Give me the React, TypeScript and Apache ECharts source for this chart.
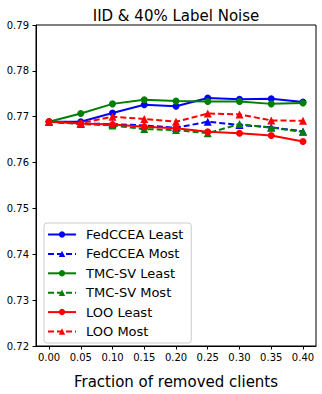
import React, { useEffect, useRef } from "react";
import * as echarts from "echarts";

const fractions = [0, 0.05, 0.1, 0.15, 0.2, 0.25, 0.3, 0.35, 0.4];
const fedLeast = [0.7689, 0.7689, 0.7708, 0.7726, 0.7723, 0.7741, 0.7738, 0.7739, 0.7732];
const fedMost = [0.7689, 0.7685, 0.7684, 0.7681, 0.7676, 0.7689, 0.7682, 0.7677, 0.7668];
const tmcLeast = [0.7689, 0.7707, 0.7728, 0.7737, 0.7734, 0.7733, 0.7733, 0.7728, 0.773];
const tmcMost = [0.7689, 0.7684, 0.7681, 0.7673, 0.7671, 0.7664, 0.7684, 0.7676, 0.7667];
const looLeast = [0.7689, 0.7685, 0.7683, 0.7678, 0.7675, 0.7667, 0.7664, 0.7659, 0.7646];
const looMost = [0.7689, 0.7686, 0.77, 0.7695, 0.7689, 0.7707, 0.7705, 0.7692, 0.7691];
const xTicks = [0, 0.05, 0.1, 0.15, 0.2, 0.25, 0.3, 0.35, 0.4];
const yTicks = [0.72, 0.73, 0.74, 0.75, 0.76, 0.77, 0.78, 0.79];

const FONT = "DejaVu Sans";

export default function App() {
  const ref = useRef<HTMLDivElement>(null);
  useEffect(() => {
    if (!ref.current) return;
    const chart = echarts.init(ref.current, null, { renderer: "svg" });
    const mk = (name: string, data: number[], color: string, dashed: boolean) => ({
      name,
      type: "line",
      data: fractions.map((f, i) => [f, data[i]]),
      symbol: dashed ? "triangle" : "circle",
      symbolSize: dashed ? 8 : 7,
      showSymbol: true,
      lineStyle: { color, width: 2, type: dashed ? [6, 3] : "solid" },
      itemStyle: { color, borderWidth: 0 },
      emphasis: { disabled: true },
    });
    chart.setOption({
      animation: false,
      title: {
        text: "IID & 40% Label Noise",
        left: 171,
        textAlign: "center",
        top: 3,
        textStyle: { fontFamily: FONT, fontSize: 15, fontWeight: "normal", color: "#000" },
      },
      grid: {
        left: 36,
        right: 6,
        top: 25,
        bottom: 43,
        show: true,
        borderColor: "#000",
        borderWidth: 1,
        backgroundColor: "#fff",
      },
      legend: {
        orient: "vertical",
        left: 44,
        top: 223,
        itemWidth: 28,
        itemHeight: 8,
        itemGap: 6.4,
        padding: [5, 8, 5, 3],
        borderColor: "#cccccc",
        borderWidth: 1,
        borderRadius: 3,
        backgroundColor: "rgba(255,255,255,0.8)",
        textStyle: { fontFamily: FONT, fontSize: 13, color: "#000", padding: [0, 0, 0, 5] },
        data: ["FedCCEA Least", "FedCCEA Most", "TMC-SV Least", "TMC-SV Most", "LOO Least", "LOO Most"],
      },
      xAxis: {
        type: "value",
        min: -0.0205,
        max: 0.4205,
        name: "Fraction of removed clients",
        nameLocation: "middle",
        nameGap: 28,
        nameTextStyle: { fontFamily: FONT, fontSize: 15, color: "#000" },
        axisLine: { show: true, onZero: false, lineStyle: { color: "#000", width: 1 } },
        axisTick: { show: true, customValues: xTicks, length: 3.5, lineStyle: { color: "#000" } },
        axisLabel: {
          customValues: xTicks,
          formatter: (v: number) => v.toFixed(2),
          fontFamily: FONT,
          fontSize: 10,
          color: "#000",
          margin: 6,
        },
        splitLine: { show: false },
      },
      yAxis: {
        type: "value",
        min: 0.72,
        max: 0.79,
        axisLine: { show: true, onZero: false, lineStyle: { color: "#000", width: 1 } },
        axisTick: { show: true, customValues: yTicks, length: 3.5, lineStyle: { color: "#000" } },
        axisLabel: {
          customValues: yTicks,
          formatter: (v: number) => v.toFixed(2),
          fontFamily: FONT,
          fontSize: 10,
          color: "#000",
          margin: 7,
        },
        splitLine: { show: false },
      },
      series: [
        mk("FedCCEA Least", fedLeast, "#0000ff", false),
        mk("FedCCEA Most", fedMost, "#0000ff", true),
        mk("TMC-SV Least", tmcLeast, "#008000", false),
        mk("TMC-SV Most", tmcMost, "#008000", true),
        mk("LOO Least", looLeast, "#ff0000", false),
        mk("LOO Most", looMost, "#ff0000", true),
      ],
    });
    return () => chart.dispose();
  }, []);
  return <div ref={ref} style={{ width: 322, height: 394, position: "absolute", left: 0, top: 0 }} />;
}
